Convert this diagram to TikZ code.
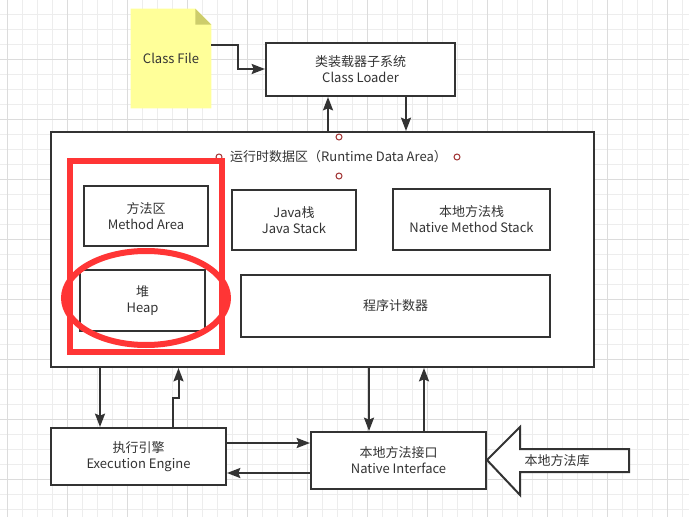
\documentclass[tikz,border=0pt]{standalone}
\usepackage{fontspec}
\setmainfont{Noto Sans CJK SC}
\usepackage{xcolor}
\usetikzlibrary{arrows.meta,positioning,calc,backgrounds}
\definecolor{ink}{HTML}{333333}
\definecolor{gridminor}{HTML}{EDEDED}
\definecolor{gridmajor}{HTML}{DCDCDC}
\definecolor{noteyel}{HTML}{FFFF99}
\definecolor{notefold}{HTML}{CDCD6B}
\definecolor{redhl}{HTML}{FF3535}
\definecolor{handlecol}{HTML}{A03232}
\tikzset{
  lbl/.style={text=ink, align=center, inner sep=0pt, font=\fontsize{9.75pt}{12pt}\selectfont},
  box/.style={lbl, draw=ink, line width=1.5pt, fill=white},
  arr/.style={-{Stealth[length=10pt, width=7.5pt, inset=1.5pt]}, draw=ink, line width=1.5pt},
  handle/.style={draw=handlecol, fill=white, line width=0.75pt},
  hilite/.style={draw=redhl, line width=4.8pt}}

\begin{document}
\begin{tikzpicture}[x=0.75pt, y=-0.75pt]
  \useasboundingbox (0,0) rectangle (689,517);
  % grid
  \begin{scope}[on background layer]
    \fill[white] (0,0) rectangle (689,517);
    \foreach \i in {0,...,45} \draw[gridminor, line width=0.75pt] (7.3+15*\i,0) -- (7.3+15*\i,517);
    \foreach \j in {1,...,34} \draw[gridminor, line width=0.75pt] (0,-0.7+15*\j) -- (689,-0.7+15*\j);
    \foreach \i in {0,...,11} \draw[gridmajor, line width=0.75pt] (7.3+60*\i,0) -- (7.3+60*\i,517);
    \foreach \j in {0,...,7} \draw[gridmajor, line width=0.75pt] (0,59.3+60*\j) -- (689,59.3+60*\j);
  \end{scope}

  % class file note
  \node[lbl, minimum width=60pt, minimum height=74.25pt] (file) at (171,58.5) {Class File};
  \begin{scope}[on background layer]
    \fill[noteyel] (file.north west) -- ([xshift=-12pt]file.north east) -- ([yshift=-12pt]file.north east)
      -- (file.south east) -- (file.south west) -- cycle;
    \fill[notefold] ([xshift=-12pt]file.north east) -- ([yshift=-12pt]file.north east)
      -- ([xshift=-12pt,yshift=-12pt]file.north east) -- cycle;
  \end{scope}
  \node[box, minimum width=141.75pt, minimum height=39.75pt] (loader) at (360.5,69.5) {类装载器子系统\\Class Loader};

  % runtime data area
  \node[box, minimum width=407.25pt, minimum height=176.25pt] (runtime) at (322.5,249.5) {};
  \node[lbl] (title) at (338.5,157) {运行时数据区（Runtime Data Area）};
  \node[box, minimum width=93pt, minimum height=45pt] (method) at (146,216) {方法区\\Method Area};
  \node[box, minimum width=93pt, minimum height=45pt] (jstack) at (294,220) {Java栈\\Java Stack};
  \node[box, minimum width=117.75pt, minimum height=45.75pt] (nstack) at (471.5,219.5) {本地方法栈\\Native Method Stack};
  \node[box, minimum width=93.75pt, minimum height=45.75pt] (heap) at (142.5,300.5) {堆\\Heap};
  \node[box, minimum width=231.75pt, minimum height=46.5pt] (pc) at (395.5,306) {程序计数器};
  \foreach \p in {(219,157), (339,137), (457,157), (339,176)} \draw[handle] \p circle [radius=3];

  % red marks
  \draw[hilite] (70,161) rectangle (222,352);
  \draw[hilite, line width=4.5pt] (146,298) ellipse [x radius=82, y radius=47];

  % engine and native side
  \node[box, minimum width=131.25pt, minimum height=42.75pt] (engine) at (138.5,456.5) {执行引擎\\Execution Engine};
  \node[box, minimum width=131.25pt, minimum height=42.75pt] (native) at (398.5,460.5) {本地方法接口\\Native Interface};
  \draw[ink, line width=1.5pt, fill=white] (native.east |- 0,460) -- (520,427) -- (520,449) -- (629,449)
    -- (629,472) -- (520,472) -- (520,495) -- cycle;
  \node[lbl] (lib) at (557,461) {本地方法库};

  % connectors
  \draw[arr] (file.east |- 0,45) -| (238,69) -- (loader.west |- 0,69);
  \draw[arr] (runtime.north -| 328,0) -- (loader.south -| 328,0);
  \draw[arr] (loader.south -| 406,0) -- (runtime.north -| 406,0);
  \draw[arr] (runtime.south -| 100,0) -- (engine.north -| 100,0);
  \draw[arr] (engine.north -| 173,0) -- (173,398) -| (runtime.south -| 178.5,0);
  \draw[arr] (runtime.south -| 369,0) -- (native.north -| 369,0);
  \draw[arr] (native.north -| 424,0) -- (runtime.south -| 424,0);
  \draw[arr] (engine.east |- 0,443) -- (native.west |- 0,443);
  \draw[arr] (native.west |- 0,473) -- (engine.east |- 0,473);
\end{tikzpicture}
\end{document}
